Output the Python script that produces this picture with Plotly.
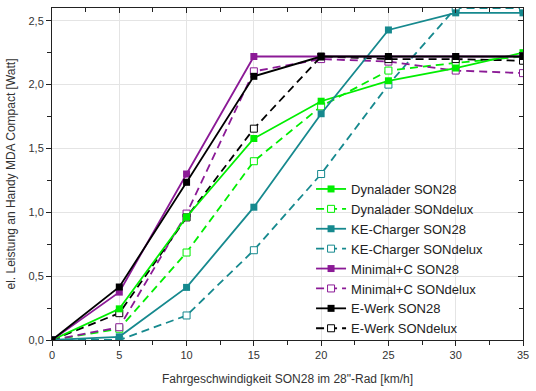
import plotly.graph_objects as go

speed = [0, 5, 10, 15, 20, 25, 30, 35]

dyn_son28 = [0, 0.244, 0.963, 1.578, 1.87, 2.03, 2.13, 2.25]
dyn_delux = [0, 0.088, 0.685, 1.40, 1.83, 2.11, 2.17, 2.22]
ke_son28 = [0, 0.025, 0.412, 1.04, 1.772, 2.428, 2.562, 2.562]
ke_delux = [0, 0.0, 0.192, 0.703, 1.30, 2.0, 2.6, 2.6]
min_son28 = [0, 0.375, 1.30, 2.22, 2.22, 2.22, 2.22, 2.22]
min_delux = [0, 0.10, 0.99, 2.104, 2.20, 2.18, 2.11, 2.09]
ew_son28 = [0, 0.415, 1.235, 2.065, 2.22, 2.22, 2.22, 2.22]
ew_delux = [0, 0.21, 0.96, 1.655, 2.22, 2.20, 2.20, 2.187]

series = [
    ("Dynalader SON28", dyn_son28, "#00ee00", False),
    ("Dynalader SONdelux", dyn_delux, "#00ee00", True),
    ("KE-Charger SON28", ke_son28, "#16898e", False),
    ("KE-Charger SONdelux", ke_delux, "#16898e", True),
    ("Minimal+C SON28", min_son28, "#8b1a96", False),
    ("Minimal+C SONdelux", min_delux, "#8b1a96", True),
    ("E-Werk SON28", ew_son28, "#000000", False),
    ("E-Werk SONdelux", ew_delux, "#000000", True),
]

x_ticks = [0, 5, 10, 15, 20, 25, 30, 35]
y_ticks = [0, 0.5, 1.0, 1.5, 2.0, 2.5]

fig = go.Figure()
# dashed (SONdelux) series drawn first, solid SON28 on top; legend order kept via legendrank
order = [i for i, s in enumerate(series) if s[3]] + [i for i, s in enumerate(series) if not s[3]]
for i in order:
    name, vals, col, dashed = series[i]
    if dashed:
        fig.add_trace(go.Scatter(
            x=speed, y=vals, name=name, mode="lines+markers", legendrank=i + 1,
            line=dict(color=col, width=1.8, dash="8px,5px"),
            marker=dict(symbol="square", size=7, color="white",
                        line=dict(color=col, width=1)),
        ))
    else:
        fig.add_trace(go.Scatter(
            x=speed, y=vals, name=name, mode="lines+markers", legendrank=i + 1,
            line=dict(color=col, width=1.8),
            marker=dict(symbol="square", size=7, color=col,
                        line=dict(color=col, width=0)),
        ))

# invisible trace for top/right inward ticks
fig.add_trace(go.Scatter(x=[0], y=[0], xaxis="x2", yaxis="y2",
                         mode="markers", marker=dict(opacity=0),
                         showlegend=False, hoverinfo="skip"))

tick_font = dict(family="Liberation Sans, Arial", size=11, color="#333333")
fig.update_layout(
    width=536, height=391,
    margin=dict(l=52, r=7, t=8, b=49),
    paper_bgcolor="white", plot_bgcolor="white",
    separators=",.",
    font=dict(family="Liberation Sans, Arial", size=12, color="#333333"),
    showlegend=True,
    legend=dict(x=0.55, y=0.50, xanchor="left", yanchor="top",
                bgcolor="rgba(0,0,0,0)", borderwidth=0,
                font=dict(family="Liberation Sans, Arial", size=13, color="#222222"),
                tracegroupgap=0),
    xaxis=dict(
        range=[0, 35], tickvals=x_ticks, ticktext=[str(v) for v in x_ticks],
        showgrid=True, gridcolor="#e4e4e4", gridwidth=1,
        showline=True, linecolor="#222222", linewidth=1, mirror=True,
        ticks="outside", ticklen=5, tickcolor="#222222",
        minor=dict(dtick=2.5, tick0=0, ticks="outside", ticklen=4,
                   tickcolor="#222222", showgrid=False),
        zeroline=False, tickfont=tick_font,
        title=dict(text="Fahrgeschwindigkeit SON28 im 28\"-Rad [km/h]",
                   font=dict(size=12, color="#333333"), standoff=14),
    ),
    yaxis=dict(
        range=[0, 2.6], tickvals=y_ticks, tickformat=".1f",
        showgrid=True, gridcolor="#e4e4e4", gridwidth=1,
        showline=True, linecolor="#222222", linewidth=1, mirror=True,
        ticks="outside", ticklen=5, tickcolor="#222222",
        minor=dict(dtick=0.25, tick0=0, ticks="outside", ticklen=4,
                   tickcolor="#222222", showgrid=False),
        zeroline=False, tickfont=tick_font,
        title=dict(text="el. Leistung an Handy MDA Compact [Watt]",
                   font=dict(size=12, color="#333333"), standoff=10),
    ),
    xaxis2=dict(range=[0, 35], overlaying="x", side="top", tickvals=x_ticks,
                showticklabels=False, ticks="inside", ticklen=5,
                tickcolor="#222222", showgrid=False, zeroline=False,
                minor=dict(dtick=2.5, tick0=0, ticks="inside", ticklen=4,
                           tickcolor="#222222")),
    yaxis2=dict(range=[0, 2.6], overlaying="y", side="right", tickvals=y_ticks,
                showticklabels=False, ticks="inside", ticklen=5,
                tickcolor="#222222", showgrid=False, zeroline=False,
                minor=dict(dtick=0.25, tick0=0, ticks="inside", ticklen=4,
                           tickcolor="#222222")),
)

fig.write_html("out.html")
